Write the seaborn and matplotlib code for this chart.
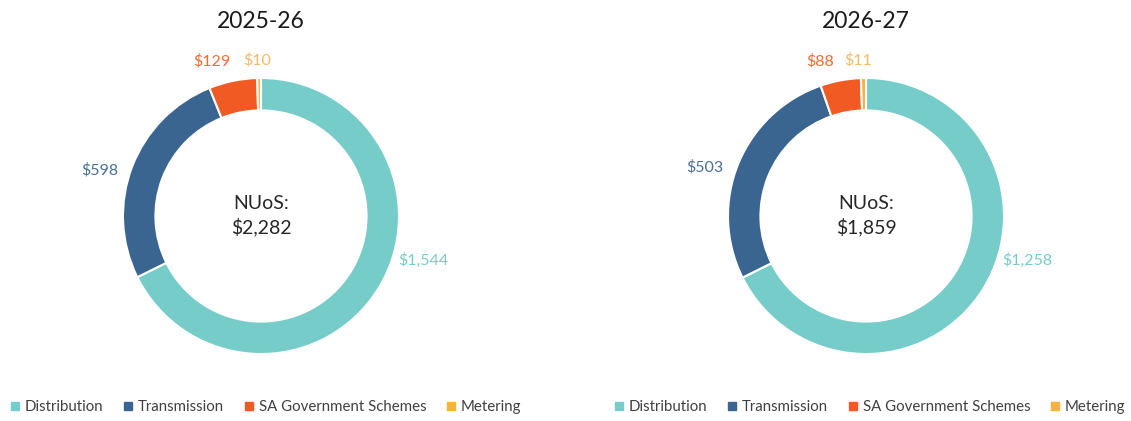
import matplotlib

matplotlib.use("Agg")
import matplotlib.pyplot as plt
from matplotlib.lines import Line2D
import seaborn as sns

# ---------------------------------------------------------------------------
# Data
# ---------------------------------------------------------------------------

categories = ["Distribution", "Transmission", "SA Government Schemes", "Metering"]
years = ["2025-26", "2026-27"]
values_2025 = [1544, 598, 129, 10]
values_2026 = [1258, 503, 88, 11]
totals = [2282, 1859]

# ---------------------------------------------------------------------------
# Style / layout
# ---------------------------------------------------------------------------

sns.set_theme(style="white")
plt.rcParams["font.family"] = ["Lato", "DejaVu Sans"]

palette = sns.color_palette(["#75CCC9", "#3A6590", "#F15A22", "#FBB040"])
label_colors = ["#75CCC9", "#4A6F98", "#F26A35", "#F9B865"]

W, H = 1131, 421
R = 138  # donut outer radius in px
centers = [(261, 216), (866, 216)]
legend_x = [266, 870]

# label offsets in donut-radius units (Excel best-fit placement)
label_pos = [
    [(1.18, -0.32), (-1.17, 0.33), (-0.355, 1.12), (-0.03, 1.13)],
    [(1.17, -0.32), (-1.17, 0.35), (-0.33, 1.12), (-0.06, 1.13)],
]

fig = plt.figure(figsize=(W / 100, H / 100), dpi=100)

for i, vals in enumerate([values_2025, values_2026]):
    cx, cy = centers[i]
    ax = fig.add_axes([(cx - R) / W, (H - cy - R) / H, 2 * R / W, 2 * R / H])
    ax.pie(
        vals,
        colors=palette,
        startangle=90,
        counterclock=False,
        radius=1.0,
        wedgeprops=dict(width=0.235, edgecolor="white", linewidth=1.5),
    )
    ax.set_xlim(-1, 1)
    ax.set_ylim(-1, 1)
    ax.axis("off")

    for j, v in enumerate(vals):
        lx, ly = label_pos[i][j]
        ax.text(lx, ly, f"${v:,}", ha="center", va="center", fontsize=11.5,
                color=label_colors[j], clip_on=False)

    ax.text(0, 0.0, f"NUoS:\n${totals[i]:,}", ha="center", va="center",
            fontsize=14, color="#262626", linespacing=1.35)

    fig.text(cx / W, 1 - 22 / H, years[i], ha="center", va="center",
             fontsize=16.5, color="#1a1a1a")

    handles = [
        Line2D([0], [0], marker="s", linestyle="", markersize=5.8,
               markerfacecolor=palette[k], markeredgecolor=palette[k])
        for k in range(len(categories))
    ]
    fig.legend(
        handles,
        categories,
        loc="center",
        bbox_to_anchor=(legend_x[i] / W, 1 - 407 / H),
        ncol=4,
        frameon=False,
        fontsize=10.8,
        labelcolor="#404040",
        handlelength=0.6,
        handletextpad=0.35,
        columnspacing=1.35,
    )

fig.savefig("out.png", dpi=100, facecolor="white")
plt.close(fig)
